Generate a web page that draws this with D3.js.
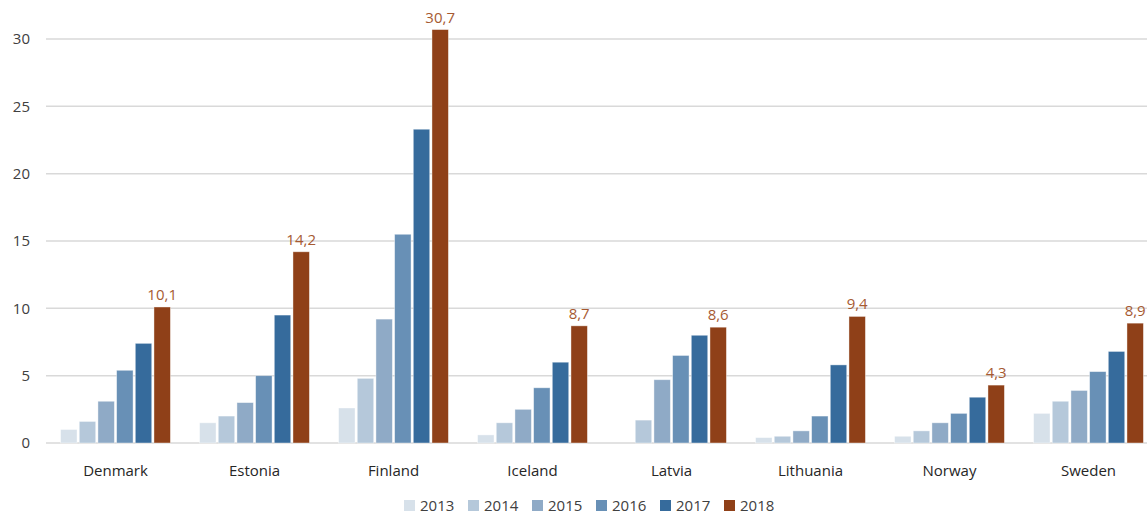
<!DOCTYPE html>
<html>
<head>
<meta charset="utf-8">
<script src="https://cdn.jsdelivr.net/npm/d3@7"></script>
<style>
  html, body { margin: 0; padding: 0; background: #fff; }
  svg { display: block; font-family: "Open Sans", "Liberation Sans", sans-serif; }
  .grid line { stroke: #d9d9d9; stroke-width: 1.5; }
  .tick-y { fill: #404040; font-size: 15px; }
  .tick-x { fill: #262626; font-size: 15px; }
  .val { fill: #a65a32; font-size: 15px; }
  .leg { fill: #404040; font-size: 15px; }
</style>
</head>
<body>
<div id="chart"></div>
<script>
// countries, legend years and readings (percent), one array per year
var countries = ["Denmark", "Estonia", "Finland", "Iceland", "Latvia", "Lithuania", "Norway", "Sweden"];
var years = ["2013", "2014", "2015", "2016", "2017", "2018"];
var v2013 = [1.0, 1.5, 2.6, 0.6, 0, 0.4, 0.5, 2.2];
var v2014 = [1.6, 2.0, 4.8, 1.5, 1.7, 0.5, 0.9, 3.1];
var v2015 = [3.1, 3.0, 9.2, 2.5, 4.7, 0.9, 1.5, 3.9];
var v2016 = [5.4, 5.0, 15.5, 4.1, 6.5, 2.0, 2.2, 5.3];
var v2017 = [7.4, 9.5, 23.3, 6.0, 8.0, 5.8, 3.4, 6.8];
var v2018 = [10.1, 14.2, 30.7, 8.7, 8.6, 9.4, 4.3, 8.9];
var yTicks = [0, 5, 10, 15, 20, 25, 30];
var colors = ["#d7e1ea", "#b5c8da", "#8faac6", "#6890b6", "#366b9c", "#8f4018"];

(function () {
  var series = [v2013, v2014, v2015, v2016, v2017, v2018];
  var W = 1147, H = 516;
  var mL = 46, mR = 1158, mT = 39, mB = 443;

  var svg = d3.select("#chart").append("svg").attr("width", W).attr("height", H);

  var y = d3.scaleLinear().domain([0, 30]).range([mB, mT]);
  var x0 = d3.scaleBand().domain(countries).range([mL, mR]).paddingInner(0.21).paddingOuter(0.105);
  var x1 = d3.scaleBand().domain(years).range([0, x0.bandwidth()]).paddingInner(0.12);

  // gridlines
  svg.append("g").attr("class", "grid").selectAll("line").data(yTicks).enter().append("line")
    .attr("x1", mL).attr("x2", W).attr("y1", function (d) { return y(d); }).attr("y2", function (d) { return y(d); });

  // y labels
  svg.append("g").selectAll("text").data(yTicks).enter().append("text")
    .attr("class", "tick-y").attr("x", 30).attr("y", function (d) { return y(d); })
    .attr("dy", "0.35em").attr("text-anchor", "end").text(function (d) { return d; });

  // bars
  var groups = svg.append("g").selectAll("g").data(countries).enter().append("g")
    .attr("transform", function (c) { return "translate(" + x0(c) + ",0)"; });

  groups.selectAll("rect").data(function (c, i) {
    return years.map(function (yr, k) { return { year: yr, k: k, v: series[k][i] }; });
  }).enter().filter(function (d) { return d.v > 0; }).append("rect")
    .attr("x", function (d) { return x1(d.year); })
    .attr("width", x1.bandwidth())
    .attr("y", function (d) { return y(d.v); })
    .attr("height", function (d) { return y(0) - y(d.v); })
    .attr("fill", function (d) { return colors[d.k]; })
    .attr("stroke", "#ffffff").attr("stroke-opacity", 0.5).attr("stroke-width", 0.8);

  // value labels on 2018
  groups.append("text").attr("class", "val")
    .attr("x", x1("2018") + x1.bandwidth() / 2)
    .attr("y", function (c, i) { return y(v2018[i]) - 7; })
    .attr("text-anchor", "middle")
    .text(function (c, i) { return String(v2018[i]).replace(".", ","); });

  // category labels
  svg.append("g").selectAll("text").data(countries).enter().append("text")
    .attr("class", "tick-x").attr("x", function (c) { return x0(c) + x0.bandwidth() / 2; })
    .attr("y", 476).attr("text-anchor", "middle").text(function (c) { return c; });

  // legend
  var leg = svg.append("g").attr("transform", "translate(404,500)");
  var item = leg.selectAll("g").data(years).enter().append("g")
    .attr("transform", function (d, i) { return "translate(" + (i * 64) + ",0)"; });
  item.append("rect").attr("width", 11).attr("height", 11).attr("fill", function (d, i) { return colors[i]; });
  item.append("text").attr("class", "leg").attr("x", 16).attr("y", 6).attr("dy", "0.35em").text(function (d) { return d; });
})();
</script>
</body>
</html>
